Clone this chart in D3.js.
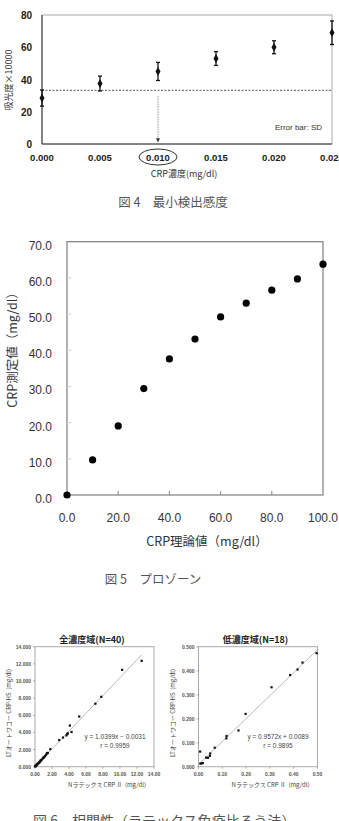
<!DOCTYPE html>
<html>
<head>
<meta charset="utf-8">
<script src="https://cdn.jsdelivr.net/npm/d3@7"></script>
<style>
  body { margin: 0; background: #fff; }
  svg { display: block; }
  text { font-family: "Liberation Sans", Arial, "Noto Sans CJK JP", sans-serif; }
  .jp { font-family: "Noto Sans CJK JP", sans-serif; }
</style>
</head>
<body>
<svg id="chart" width="339" height="821"></svg>
<script>
// fig 4 : minimum detection sensitivity
let fig4Conc = [0, 0.005, 0.010, 0.015, 0.020, 0.025];
let fig4Mean = [28.5, 37.5, 45, 53, 60, 69];
let fig4Sd = [5, 4.6, 5.6, 4.3, 4, 7.3];
let fig4Cutoff = 33.3;
let fig4YTicks = [0, 20, 40, 60, 80];

// fig 5 : prozone
let fig5Theory = [0, 10, 20, 30, 40, 50, 60, 70, 80, 90, 100];
let fig5Measured = [0, 9.7, 19.1, 29.4, 37.6, 43.1, 49.2, 53.0, 56.6, 59.7, 63.8];
let fig5XTicks = [0, 20, 40, 60, 80, 100];
let fig5YTicks = [0, 10, 20, 30, 40, 50, 60, 70];

// fig 6 : correlation, full range (N=40)
let allX = [0.02, 0.05, 0.08, 0.1, 0.12, 0.15, 0.2, 0.25, 0.3, 0.35, 0.4, 0.45, 0.5, 0.55, 0.6, 0.65, 0.7, 0.8, 0.9, 1.0,
            1.05, 1.1, 1.2, 1.3, 1.4, 1.45, 1.5, 1.8, 2.85, 3.3, 3.7, 3.8, 3.85, 4.1, 4.3, 5.2, 7.1, 7.8, 10.25, 12.55];
let allY = [0.03, 0.06, 0.1, 0.08, 0.13, 0.18, 0.22, 0.26, 0.33, 0.38, 0.4, 0.47, 0.5, 0.55, 0.62, 0.7, 0.75, 0.82, 0.95, 1.05,
            1.1, 1.15, 1.25, 1.4, 1.55, 1.6, 1.6, 2.05, 3.1, 3.4, 3.65, 3.8, 3.9, 4.8, 4.05, 5.85, 7.35, 8.15, 11.3, 12.35];
let allFit = [1.0399, -0.0031];
// fig 6 : correlation, low range (N=18)
let lowX = [0.007, 0.008, 0.013, 0.018, 0.032, 0.04, 0.048, 0.049, 0.068, 0.117, 0.118, 0.168, 0.198, 0.307, 0.385, 0.416, 0.437, 0.496];
let lowY = [0.063, 0.013, 0.014, 0.015, 0.038, 0.037, 0.045, 0.055, 0.079, 0.118, 0.128, 0.151, 0.22, 0.331, 0.382, 0.405, 0.434, 0.473];
let lowFit = [0.9572, 0.0089];

let svg = d3.select('#chart');
svg.append('rect').attr('width', 339).attr('height', 821).attr('fill', '#fff');

//////// Fig 4 ////////
let x4 = d3.scaleLinear().domain([0, 0.025]).range([42, 332]);
let y4 = d3.scaleLinear().domain([0, 80]).range([144, 15]);
let g4 = svg.append('g');

g4.append('rect').attr('x', x4(0)).attr('y', y4(80)).attr('width', x4(0.025) - x4(0)).attr('height', y4(0) - y4(80))
  .attr('fill', 'none').attr('stroke', '#aaa').attr('stroke-width', 1);
g4.append('line').attr('x1', x4(0)).attr('x2', x4(0)).attr('y1', y4(80)).attr('y2', y4(0)).attr('stroke', '#333');
g4.append('line').attr('x1', x4(0)).attr('x2', x4(0.025)).attr('y1', y4(0)).attr('y2', y4(0)).attr('stroke', '#333');

g4.selectAll('.ytl').data(fig4YTicks).join('text')
  .attr('x', 32).attr('y', d => y4(d) + 4).attr('text-anchor', 'end')
  .attr('font-size', 10).attr('font-weight', 'bold').attr('fill', '#222').text(d => d);
g4.selectAll('.xtl').data(fig4Conc).join('text')
  .attr('x', d => x4(d)).attr('y', 161).attr('text-anchor', 'middle')
  .attr('font-size', 9.5).attr('font-weight', 'bold').attr('fill', '#222').text(d => d3.format('.3f')(d));

// circle round the detection limit
g4.append('ellipse').attr('cx', x4(0.010)).attr('cy', 157).attr('rx', 19).attr('ry', 8)
  .attr('fill', 'none').attr('stroke', '#333').attr('stroke-width', 1);

// cutoff line
g4.append('line').attr('x1', x4(0)).attr('x2', x4(0.025)).attr('y1', y4(fig4Cutoff)).attr('y2', y4(fig4Cutoff))
  .attr('stroke', '#555').attr('stroke-dasharray', '2,1.5');
// arrow down to the axis
g4.append('line').attr('x1', x4(0.010)).attr('x2', x4(0.010)).attr('y1', y4(fig4Cutoff) + 6).attr('y2', y4(3))
  .attr('stroke', '#999').attr('stroke-dasharray', '1.5,1');
g4.append('path').attr('d', d3.line()([[x4(0.010) - 2, y4(3.5)], [x4(0.010) + 2, y4(3.5)], [x4(0.010), y4(1)]]) + 'Z')
  .attr('fill', '#333');

// error bars
fig4Conc.forEach((c, i) => {
  let cx = x4(c), lo = y4(fig4Mean[i] - fig4Sd[i]), hi = y4(fig4Mean[i] + fig4Sd[i]);
  g4.append('line').attr('x1', cx).attr('x2', cx).attr('y1', lo).attr('y2', hi).attr('stroke', '#111').attr('stroke-width', 1.3);
  [lo, hi].forEach(yy => g4.append('line').attr('x1', cx - 2).attr('x2', cx + 2).attr('y1', yy).attr('y2', yy)
    .attr('stroke', '#111').attr('stroke-width', 1.3));
});
g4.selectAll('.pt').data(fig4Conc).join('path')
  .attr('transform', (d, i) => `translate(${x4(d)},${y4(fig4Mean[i])})`)
  .attr('d', d3.symbol(d3.symbolDiamond, 22)).attr('fill', '#111');

g4.append('text').attr('x', 322).attr('y', 130).attr('text-anchor', 'end').attr('font-size', 8).attr('fill', '#333')
  .text('Error bar: SD');
g4.append('text').attr('class', 'jp').attr('x', 184).attr('y', 177).attr('text-anchor', 'middle')
  .attr('font-size', 9).attr('fill', '#333').text('CRP濃度(mg/dl)');
g4.append('text').attr('class', 'jp').attr('transform', 'translate(12,80) rotate(-90)').attr('text-anchor', 'middle')
  .attr('font-size', 9).attr('fill', '#333').text('吸光度×10000');

svg.append('text').attr('class', 'jp').attr('x', 173).attr('y', 207).attr('text-anchor', 'middle')
  .attr('font-size', 12.5).attr('fill', '#555').attr('xml:space', 'preserve').text('図 4　最小検出感度');

//////// Fig 5 ////////
let x5 = d3.scaleLinear().domain([0, 100]).range([67, 323]);
let y5 = d3.scaleLinear().domain([0, 70]).range([495, 241.7]);
let g5 = svg.append('g');

g5.append('rect').attr('x', x5(0)).attr('y', y5(70)).attr('width', x5(100) - x5(0)).attr('height', y5(0) - y5(70))
  .attr('fill', 'none').attr('stroke', '#888').attr('stroke-width', 1.3);
g5.selectAll('.xt').data(fig5XTicks.slice(1, -1)).join('line')
  .attr('x1', d => x5(d)).attr('x2', d => x5(d)).attr('y1', y5(0)).attr('y2', y5(0) - 4).attr('stroke', '#888');
g5.selectAll('.yt').data(fig5YTicks.slice(1, -1)).join('line')
  .attr('x1', x5(0)).attr('x2', x5(0) + 4).attr('y1', d => y5(d)).attr('y2', d => y5(d)).attr('stroke', '#ccc');

g5.selectAll('.ytl').data(fig5YTicks).join('text')
  .attr('x', 52).attr('y', d => y5(d) + 8).attr('text-anchor', 'end')
  .attr('font-size', 12).attr('fill', '#333').text(d => d3.format('.1f')(d));
g5.selectAll('.xtl').data(fig5XTicks).join('text')
  .attr('x', d => x5(d)).attr('y', 522).attr('text-anchor', 'middle')
  .attr('font-size', 12).attr('fill', '#333').text(d => d3.format('.1f')(d));

g5.selectAll('.pt').data(fig5Theory).join('circle')
  .attr('cx', d => x5(d)).attr('cy', (d, i) => y5(fig5Measured[i])).attr('r', 3.6).attr('fill', '#000');

g5.append('text').attr('class', 'jp').attr('x', 207).attr('y', 546).attr('text-anchor', 'middle')
  .attr('font-size', 12.5).attr('fill', '#333').text('CRP理論値（mg/dl）');
g5.append('text').attr('class', 'jp').attr('transform', 'translate(17,347) rotate(-90)').attr('text-anchor', 'middle')
  .attr('font-size', 12.5).attr('fill', '#333').text('CRP測定値（mg/dl）');

svg.append('text').attr('class', 'jp').attr('x', 153).attr('y', 584).attr('text-anchor', 'middle')
  .attr('font-size', 12.5).attr('fill', '#555').attr('xml:space', 'preserve').text('図 5　プロゾーン');

//////// Fig 6 ////////
function corrPlot(opt) {
  let g = svg.append('g');
  let x = d3.scaleLinear().domain([0, opt.max]).range([opt.left, opt.left + 119]);
  let y = d3.scaleLinear().domain([0, opt.max]).range([766.7, 646.7]);
  let ticks = d3.range(0, opt.max + opt.step / 2, opt.step);

  g.append('rect').attr('x', x(0)).attr('y', y(opt.max)).attr('width', x(opt.max) - x(0)).attr('height', y(0) - y(opt.max))
    .attr('fill', 'none').attr('stroke', '#aaa').attr('stroke-width', 1);
  g.selectAll('.yt').data(ticks).join('line')
    .attr('x1', x(0) - 2).attr('x2', x(0)).attr('y1', d => y(d)).attr('y2', d => y(d)).attr('stroke', '#aaa');
  g.selectAll('.xt').data(ticks).join('line')
    .attr('x1', d => x(d)).attr('x2', d => x(d)).attr('y1', y(0)).attr('y2', y(0) + 2).attr('stroke', '#aaa');
  g.selectAll('.ytl').data(ticks).join('text')
    .attr('x', x(0) - 4).attr('y', d => y(d) + 2).attr('text-anchor', 'end')
    .attr('font-size', 5).attr('font-weight', 'bold').attr('fill', '#555').text(d => d3.format(opt.yf)(d));
  g.selectAll('.xtl').data(ticks).join('text')
    .attr('x', d => x(d)).attr('y', 776).attr('text-anchor', 'middle')
    .attr('font-size', 5).attr('font-weight', 'bold').attr('fill', '#555').text(d => d3.format('.2f')(d));

  let xMax = opt.fitTo;
  g.append('line').attr('x1', x(0)).attr('y1', y(opt.fit[1] > 0 ? opt.fit[1] : 0))
    .attr('x2', x(xMax)).attr('y2', y(opt.fit[0] * xMax + opt.fit[1])).attr('stroke', '#aaa').attr('stroke-width', 0.8);

  g.selectAll('.pt').data(opt.xs).join('rect')
    .attr('x', d => x(d) - 1.1).attr('y', (d, i) => y(opt.ys[i]) - 1.1).attr('width', 2.2).attr('height', 2.2).attr('fill', '#111');

  g.append('text').attr('class', 'jp').attr('x', opt.left + 57).attr('y', 643).attr('text-anchor', 'middle')
    .attr('font-size', 9).attr('font-weight', 'bold').attr('fill', '#222').text(opt.title);
  g.append('text').attr('x', opt.eqX).attr('y', 739).attr('text-anchor', 'middle')
    .attr('font-size', 6.5).attr('fill', '#444').text(opt.eq);
  g.append('text').attr('x', opt.eqX).attr('y', 747.5).attr('text-anchor', 'middle')
    .attr('font-size', 6.5).attr('fill', '#444').text(opt.r);
  g.append('text').attr('class', 'jp').attr('x', opt.left + 72).attr('y', 787).attr('text-anchor', 'middle')
    .attr('font-size', 6).attr('fill', '#444').attr('xml:space', 'preserve').text(opt.xTitle);
  g.append('text').attr('class', 'jp').attr('transform', `translate(${opt.left - 24},713) rotate(-90)`).attr('text-anchor', 'middle')
    .attr('font-size', 6).attr('fill', '#444').attr('xml:space', 'preserve').text('LTオートワコー CRP-HS  (mg/dl)');
}

corrPlot({ left: 35, max: 14, step: 2, yf: '.3f', xs: allX, ys: allY, fit: allFit, fitTo: 12.55,
  title: '全濃度域(N=40)', eq: 'y = 1.0399x − 0.0031', r: 'r = 0.9959', eqX: 115,
  xTitle: 'Nラテックス CRP Ⅱ  (mg/dl)' });
corrPlot({ left: 198.5, max: 0.5, step: 0.1, yf: '.3f', xs: lowX, ys: lowY, fit: lowFit, fitTo: 0.5,
  title: '低濃度域(N=18)', eq: 'y = 0.9572x + 0.0089', r: 'r = 0.9895', eqX: 278,
  xTitle: 'Nラテックス CRP Ⅱ  (mg/dl)' });

svg.append('text').attr('class', 'jp').attr('x', 33).attr('y', 826)
  .attr('font-size', 14).attr('fill', '#555').attr('xml:space', 'preserve').text('図 6　相関性（ラテックス免疫比ろう法）');
</script>
</body>
</html>
